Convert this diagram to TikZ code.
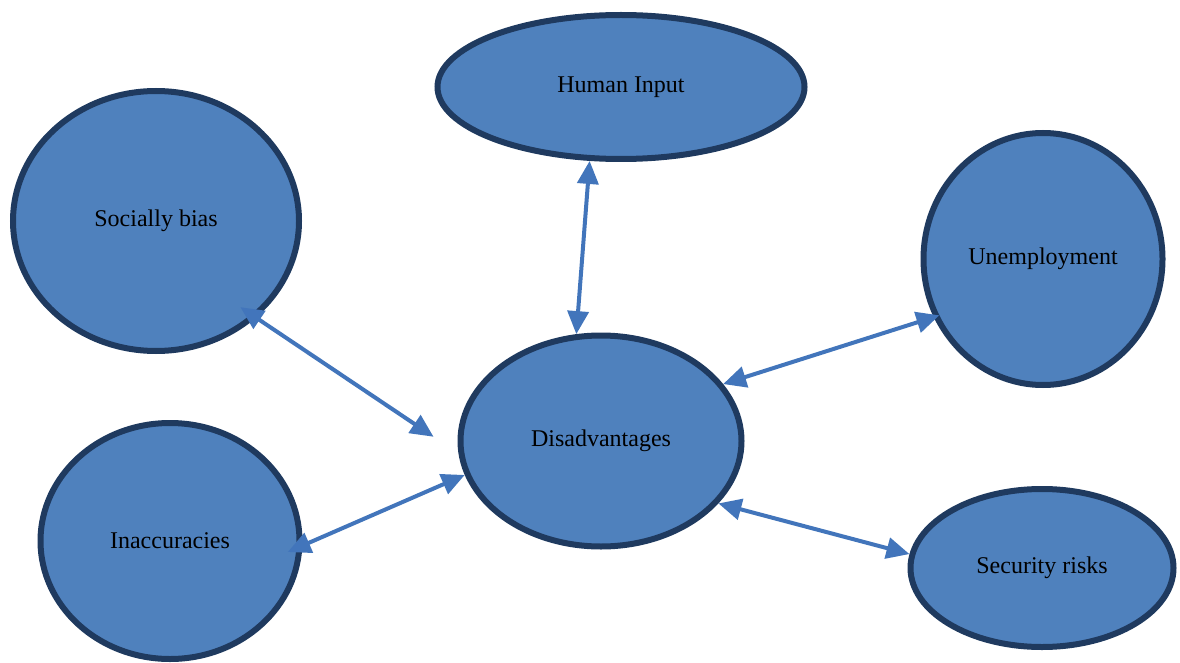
\documentclass[tikz,border=0pt]{standalone}
\usepackage{fontspec}
\setmainfont{Liberation Serif}
\usetikzlibrary{shapes.geometric,arrows.meta}
\definecolor{bubblefill}{HTML}{4F81BD}
\definecolor{bubbleline}{HTML}{1F3A5F}
\definecolor{linkblue}{HTML}{4275BB}

\begin{document}
\begin{tikzpicture}[x=1pt,y=-1pt,
    bubble/.style={ellipse,draw=bubbleline,fill=bubblefill,line width=6pt,inner sep=0pt,font=\fontsize{24}{28}\selectfont},
    link/.style={draw=linkblue,line width=4pt,{Triangle[length=23pt,width=21pt]}-{Triangle[length=23pt,width=21pt]}}]
    \useasboundingbox (0,0) rectangle (1180,663);
    \node[bubble,minimum width=367pt,minimum height=144pt] (human) at (621,87) {Human Input};
    \node[bubble,minimum width=286pt,minimum height=260pt] (social) at (156,221) {Socially bias};
    \node[bubble,minimum width=239pt,minimum height=252pt] (unemp) at (1043,259) {Unemployment};
    \node[bubble,minimum width=281pt,minimum height=211pt] (dis) at (601,441) {Disadvantages};
    \node[bubble,minimum width=259pt,minimum height=236pt] (inacc) at (170,541) {Inaccuracies};
    \node[bubble,minimum width=263pt,minimum height=158pt] (secur) at (1042,568) {Security risks};
    % links to the centre
    \draw[link,shorten <=-19pt,shorten >=30pt] (social.-44) -- (dis.-175);
    \draw[link] (human.-113) -- (dis.103);
    \draw[link,shorten <=-6pt] (unemp.-152) -- (dis.25);
    \draw[link,shorten <=-16pt] (inacc.-2) -- (dis.-166);
    \draw[link] (dis.-28) -- (secur.174);
\end{tikzpicture}
\end{document}
